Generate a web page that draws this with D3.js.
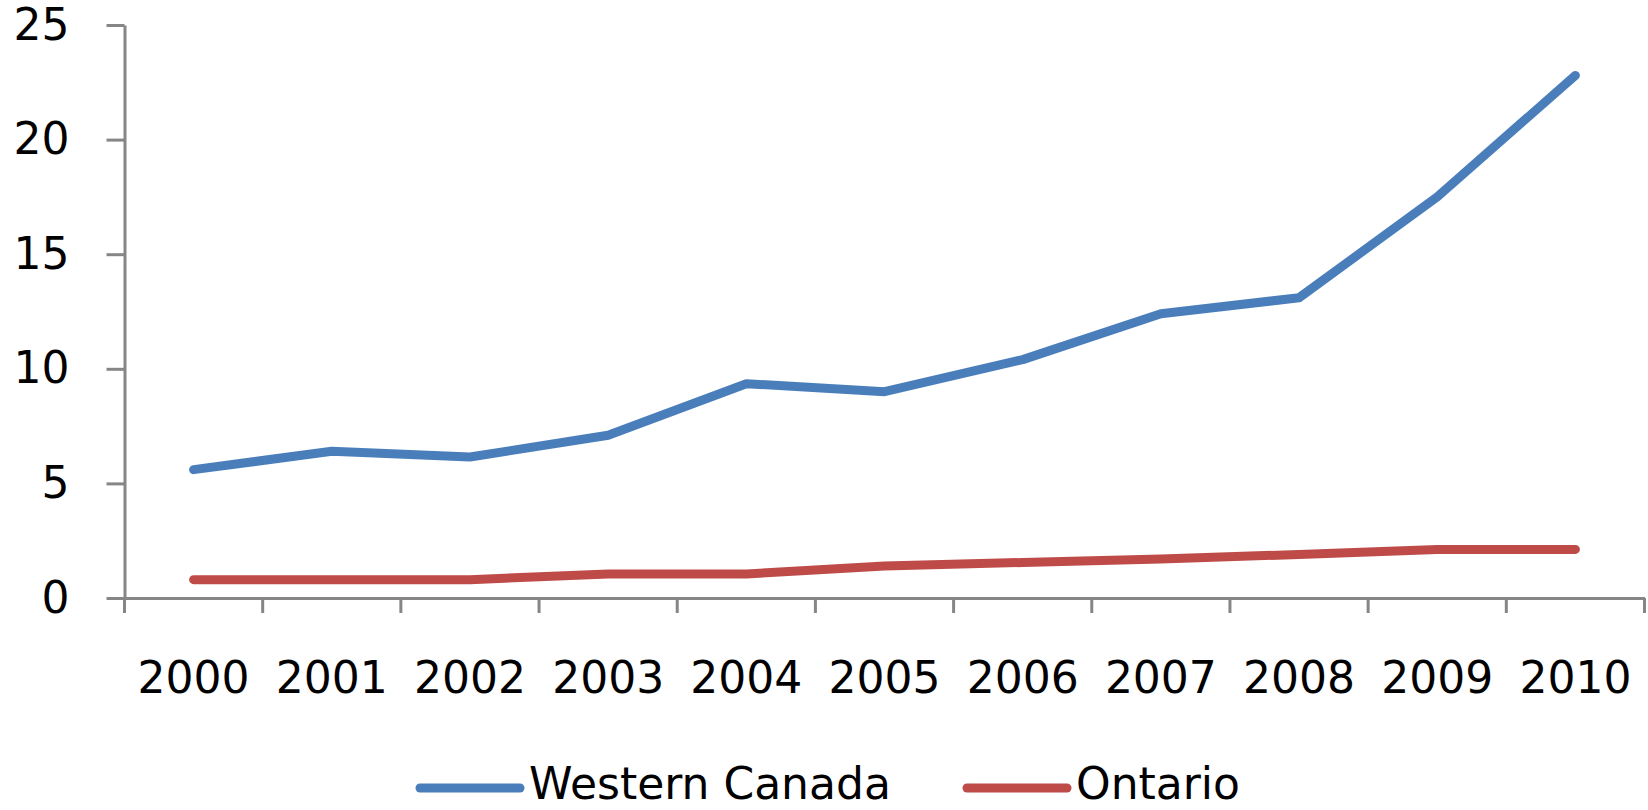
<!doctype html>
<html>
<head>
    <meta charset="utf-8">
    <title>Western Canada vs Ontario</title>
    <script src="https://d3js.org/d3.v7.min.js"></script>
    <style>
        body { margin: 0; background: #fff; }
        text { font-family: "DejaVu Sans", Verdana, sans-serif; fill: #000; }
    </style>
</head>
<body>
    <svg width="1648" height="810"></svg>
    <script>
        var years = ["2000", "2001", "2002", "2003", "2004", "2005", "2006", "2007", "2008", "2009", "2010"];
        var westernCanada = [5.6, 6.4, 6.15, 7.1, 9.35, 9.0, 10.4, 12.4, 13.1, 17.5, 22.8];
        var ontario = [0.8, 0.8, 0.8, 1.05, 1.05, 1.4, 1.55, 1.7, 1.9, 2.12, 2.12];
        var yTicks = [0, 5, 10, 15, 20, 25];

        var series = [
            { name: "Western Canada", values: westernCanada, color: "#4a7ebb" },
            { name: "Ontario", values: ontario, color: "#be4b48" }
        ];

        var axisColor = "#868686";

        var svg = d3.select("svg");

        var x = d3.scaleBand()
            .domain(years)
            .range([124.5, 1644.5])
            .padding(0);

        var y = d3.scaleLinear()
            .domain([0, 25])
            .range([598, 25]);

        // y axis
        var yAxis = svg.append("g")
            .attr("transform", "translate(124.5,0)")
            .call(d3.axisLeft(y).tickValues(yTicks).tickSize(18).tickSizeOuter(0).tickPadding(37));
        yAxis.select(".domain").attr("stroke", axisColor).attr("stroke-width", 3);
        yAxis.selectAll(".tick line").attr("stroke", axisColor).attr("stroke-width", 3);
        yAxis.selectAll(".tick text")
            .attr("font-size", 44)
            .attr("font-family", "DejaVu Sans")
            .attr("fill", "#000");

        // x axis, labels at band centres
        var xAxis = svg.append("g")
            .attr("transform", "translate(0,598)")
            .call(d3.axisBottom(x).tickSize(0).tickSizeOuter(0));
        xAxis.select(".domain").attr("stroke", axisColor).attr("stroke-width", 3);
        xAxis.selectAll(".tick text")
            .attr("y", 95)
            .attr("dy", 0)
            .attr("font-size", 44)
            .attr("font-family", "DejaVu Sans")
            .attr("fill", "#000");

        // tick marks at the category boundaries
        var bounds = years.map(function (d) { return x(d); }).concat([x.range()[1]]);
        xAxis.selectAll("line.bound")
            .data(bounds)
            .enter()
                .append("line")
                .attr("class", "bound")
                .attr("x1", function (d) { return d; })
                .attr("x2", function (d) { return d; })
                .attr("y1", 0)
                .attr("y2", 15)
                .attr("stroke", axisColor)
                .attr("stroke-width", 3);

        var line = d3.line()
            .x(function (d, i) { return x(years[i]) + x.bandwidth() / 2; })
            .y(function (d) { return y(d); });

        svg.selectAll("path.series")
            .data(series)
            .enter()
                .append("path")
                .attr("class", "series")
                .attr("d", function (d) { return line(d.values); })
                .attr("fill", "none")
                .attr("stroke", function (d) { return d.color; })
                .attr("stroke-width", 9)
                .attr("stroke-linecap", "round")
                .attr("stroke-linejoin", "round");

        // legend
        var legendX = [420, 967];
        var legend = svg.selectAll("g.legend")
            .data(series)
            .enter()
                .append("g")
                .attr("class", "legend")
                .attr("transform", function (d, i) { return "translate(" + legendX[i] + ",788)"; });

        legend.append("line")
            .attr("x1", 0)
            .attr("x2", 100)
            .attr("y1", 0)
            .attr("y2", 0)
            .attr("stroke", function (d) { return d.color; })
            .attr("stroke-width", 9)
            .attr("stroke-linecap", "round");

        legend.append("text")
            .attr("x", 109)
            .attr("y", 11)
            .attr("font-size", 44)
            .text(function (d) { return d.name; });
    </script>
</body>
</html>
